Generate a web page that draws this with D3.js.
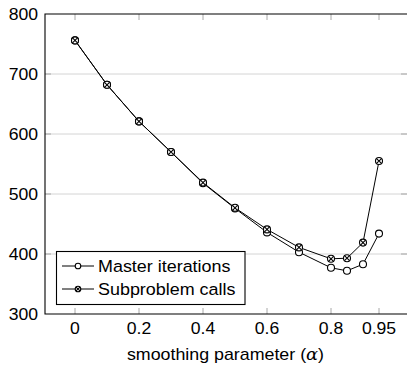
<!DOCTYPE html>
<html>
<head>
<meta charset="utf-8">
<script src="https://cdn.jsdelivr.net/npm/d3@7"></script>
<style>
  html, body { margin: 0; padding: 0; background: #fff; }
  svg { display: block; }
  text { font-family: "Liberation Sans", Arial, Helvetica, sans-serif; fill: #000; }
</style>
</head>
<body>
<svg id="chart" width="407" height="366"></svg>
<script>
const alphas = [0, 0.1, 0.2, 0.3, 0.4, 0.5, 0.6, 0.7, 0.8, 0.85, 0.9, 0.95];
const masterIterations = [756, 682, 621, 570, 518, 476, 436, 403, 377, 372, 383, 434];
const subproblemCalls  = [756, 682, 621, 570, 519, 477, 441, 411, 392, 393, 419, 555];
const xTicks = [0, 0.2, 0.4, 0.6, 0.8, 0.95];
const xTickLabels = ["0", "0.2", "0.4", "0.6", "0.8", "0.95"];
const yTicks = [300, 400, 500, 600, 700, 800];
const seriesNames = ["Master iterations", "Subproblem calls"];
const xLabelText = "smoothing parameter (";
const xLabelSymbol = "\u03B1";

(function () {
const svg = d3.select("#chart");
const pL = 45, pR = 407, pT = 14, pB = 314;
const SX = 1.1;

const x = d3.scaleLinear().domain([-0.09375, 1.0375]).range([pL, pR]);
const y = d3.scaleLinear().domain([300, 800]).range([pB, pT]);

function stretchedText(g, tx, ty, str, anchor, size) {
  return g.append("text")
    .attr("transform", `translate(${tx},${ty}) scale(${SX},1)`)
    .attr("text-anchor", anchor)
    .style("font-size", size + "px")
    .text(str);
}

// grid lines
svg.append("g").selectAll("line")
  .data(yTicks.filter(v => v > 300 && v < 800))
  .join("line")
  .attr("x1", pL).attr("x2", pR)
  .attr("y1", d => y(d)).attr("y2", d => y(d))
  .attr("stroke", "#d4d4d4").attr("stroke-width", 1);

// inner ticks
const tk = svg.append("g").attr("stroke", "#a8a8a8").attr("stroke-width", 1);
yTicks.filter(v => v > 300 && v < 800).forEach(v => {
  tk.append("line").attr("x1", pL).attr("x2", pL + 6).attr("y1", y(v)).attr("y2", y(v));
  tk.append("line").attr("x1", pR - 6).attr("x2", pR).attr("y1", y(v)).attr("y2", y(v));
});
xTicks.forEach(v => {
  tk.append("line").attr("x1", x(v)).attr("x2", x(v)).attr("y1", pT).attr("y2", pT + 6);
  tk.append("line").attr("x1", x(v)).attr("x2", x(v)).attr("y1", pB).attr("y2", pB - 6);
});

// axis frame
svg.append("path").attr("d", `M${pR + 2},${pT} H${pL} V${pB} H${pR + 2}`)
  .attr("stroke", "#000").attr("stroke-width", 1.1).attr("fill", "none");

// tick labels
const lab = svg.append("g");
yTicks.forEach(v => stretchedText(lab, 38, y(v) + 5.8, String(v), "end", 16));
xTicks.forEach((v, i) => stretchedText(lab, x(v), 334, xTickLabels[i], "middle", 16));
const xl = stretchedText(lab, 225.5, 360, "", "middle", 16.2);
xl.append("tspan").text(xLabelText);
xl.append("tspan").attr("font-family", "'DejaVu Serif', 'Liberation Serif', serif")
  .attr("font-style", "italic").text(xLabelSymbol);
xl.append("tspan").text(")");

// lines
const line = d3.line().x(d => x(d[0])).y(d => y(d[1]));
const dataM = alphas.map((a, i) => [a, masterIterations[i]]);
const dataS = alphas.map((a, i) => [a, subproblemCalls[i]]);

svg.append("path").datum(dataM).attr("d", line)
  .attr("fill", "none").attr("stroke", "#000").attr("stroke-width", 1);
svg.append("path").datum(dataS).attr("d", line)
  .attr("fill", "none").attr("stroke", "#000").attr("stroke-width", 1);

function drawCircle(g, cx, cy, r) {
  g.append("circle").attr("cx", cx).attr("cy", cy).attr("r", r)
    .attr("fill", "#fff").attr("stroke", "#000").attr("stroke-width", 1.1);
}
function drawOtimes(g, cx, cy, r) {
  drawCircle(g, cx, cy, r);
  const k = r * 0.7071;
  g.append("path")
    .attr("d", `M${cx - k},${cy - k}L${cx + k},${cy + k}M${cx - k},${cy + k}L${cx + k},${cy - k}`)
    .attr("stroke", "#000").attr("stroke-width", 1.1);
}

const mk = svg.append("g");
dataM.forEach(d => drawCircle(mk, x(d[0]), y(d[1]), 3.5));
dataS.forEach(d => drawOtimes(mk, x(d[0]), y(d[1]), 3.5));

// legend
const lg = svg.append("g");
lg.append("rect").attr("x", 56.5).attr("y", 251.5).attr("width", 188.5).attr("height", 53)
  .attr("fill", "#fff").attr("stroke", "#000").attr("stroke-width", 1.1);
const rows = [266, 289];
rows.forEach((ry, i) => {
  lg.append("line").attr("x1", 62).attr("x2", 94).attr("y1", ry).attr("y2", ry)
    .attr("stroke", "#000").attr("stroke-width", 1);
  if (i === 0) drawCircle(lg, 78, ry, 2.8);
  else drawOtimes(lg, 78, ry, 2.8);
  stretchedText(lg, 98, ry + 6, seriesNames[i], "start", 16.3);
});
})();
</script>
</body>
</html>
